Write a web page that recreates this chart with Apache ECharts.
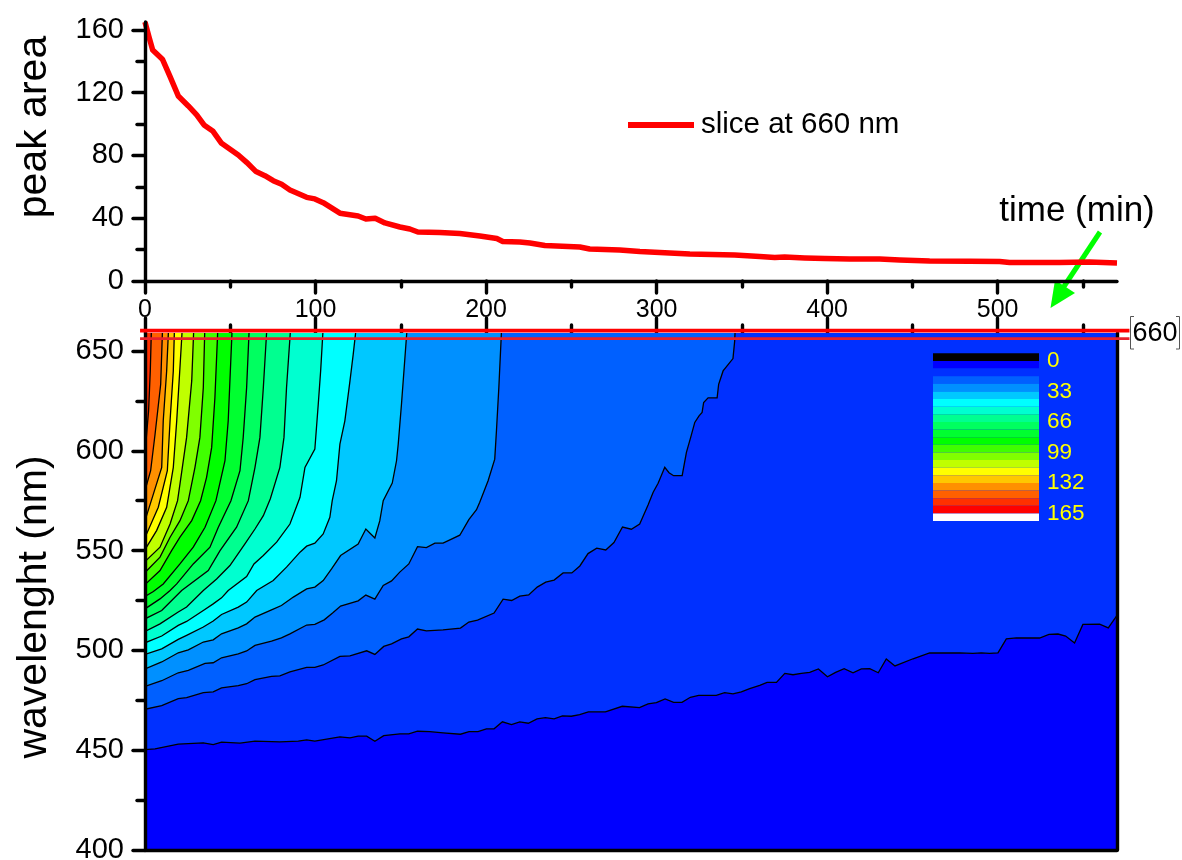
<!DOCTYPE html>
<html>
<head>
<meta charset="utf-8">
<style>html,body{margin:0;padding:0;background:#fff}#c{width:1182px;height:860px}</style>
<script src="https://cdn.jsdelivr.net/npm/echarts@6/dist/echarts.min.js"></script>
</head>
<body>
<div id="c"></div>
<script>
// ---------- top panel: slice at 660 nm (time, peak area)
const sliceData = [[0,165],[2.3,155.7],[4.5,147.2],[10.2,141.3],[14.7,130.2],[19.5,117.9],[25.4,111.5],[30.3,105.8],[34.6,99.4],[39.7,95.6],[44.9,87.7],[54.7,80.3],[59.6,75.6],[65.1,69.7],[70.3,67.1],[75.2,63.9],[80.1,61.6],[85,58],[94.8,53.3],[99.6,52.3],[104.5,49.9],[114.3,43.2],[125,41.4],[129.5,39.5],[135,40],[140.7,37],[149.5,34.4],[155.3,33.1],[160,31.2],[172.9,30.9],[184.6,30.3],[196.4,28.7],[206.3,27.1],[209.8,25.2],[219.8,24.9],[225.7,24.2],[234.5,22.6],[255,21.7],[260.8,20.4],[278.4,19.8],[290.2,18.8],[307.7,17.8],[319.5,17.2],[345.8,16.5],[360.5,15.6],[369.3,15],[375.1,15.3],[386.9,14.7],[398.6,14.3],[413.2,14],[430.8,14],[442.6,13.4],[460.1,12.7],[483.6,12.6],[501.2,12.4],[507,11.8],[536.3,11.8],[553.9,12.1],[570,11.5]];

// ---------- lower panel: contour lines (time, wavelength), wall -> top edge
const c0 = [[0,400],[570,400]];
const c8 = [[0,450.3],[5.9,450.7],[19.5,453],[34.2,453.7],[40,452.8],[44.9,454],[55.7,453.5],[64.5,454.5],[79.1,454.2],[89.9,454.5],[94.8,455.2],[99.6,454.5],[114.3,456.7],[120.2,456.2],[125,457],[130,457],[134.8,454.5],[140,457.3],[149.5,458.2],[154.7,458.2],[159.8,459.5],[167,459.3],[174.8,458.7],[185,458],[190,459.3],[195.3,459.3],[200.2,460.7],[204.7,460.7],[209.6,464.2],[214.9,462.8],[219.8,464.2],[224.8,463.5],[229.9,465.7],[234.8,466.3],[239.9,465.7],[244.8,467.2],[250,467],[254.9,467.8],[260,469.2],[270,469.2],[279.9,472],[290,471.3],[295,473.2],[299.9,473.8],[305,475.7],[310,474],[314.9,474],[319.8,476.5],[324.7,477.5],[335,477.5],[339.9,478.8],[344.8,478.2],[349.7,479.2],[354.6,480.8],[360.5,482.5],[364.8,484],[370.3,484],[375.2,488.5],[380,487.8],[384.9,488.5],[389.8,489],[394.9,490.7],[400.2,486.8],[405,489],[410,490.8],[415.2,488.8],[420.1,490.7],[425,490.8],[430,488.8],[434.7,495.7],[439.8,492.2],[450.4,495.8],[460.1,498.7],[477.7,498.8],[485.5,498.5],[490.4,498.8],[495.3,498.5],[500.2,498.8],[505.1,505.8],[511,506.3],[524.6,506.2],[530.1,508],[535.4,508.2],[539.9,507.2],[545.1,503.7],[550,513],[559.8,513.2],[564.9,511.3],[570,517.5]];
const c16 = [[0,470.5],[9.8,472.3],[19.5,475.8],[24.4,476.3],[34.2,478.8],[40,479.2],[44.9,481.2],[54.7,482.3],[59.6,483.3],[64.5,485.3],[74.2,487],[79.1,487.2],[85,489.2],[94.8,491.5],[99.6,491.5],[104.5,492.7],[114.3,497],[120.2,497.3],[130,499.8],[134.8,498],[140,502],[144.6,503.3],[150.4,505.8],[154.7,506.8],[159.8,510.7],[165,509.8],[174.8,510.3],[185,511.2],[189.9,514.2],[195,515.2],[204.7,518.7],[210,525.7],[215,525],[219.8,527.2],[225,527.8],[230,531.7],[235,534.2],[239.9,535.2],[245.2,538.8],[250.3,538.8],[255,542.3],[259.8,548.5],[264.9,551.2],[270.2,550.3],[275,554],[280,561.8],[285.2,560.7],[290.1,563.3],[295,572.8],[298,579.2],[300.9,583.7],[304.8,591.7],[307.3,589],[310,587.5],[315,587.5],[317.5,599.2],[320,606.7],[322.4,614.2],[324.9,617.5],[326.7,619.2],[327.6,624.2],[330.2,626.5],[335.5,626.5],[336.4,633.3],[339,640],[344.8,646.2],[345.8,655],[346,659]];
const c25 = [[0,482],[9.8,484.8],[19.5,488.8],[25.4,490],[35.2,493.5],[40,493.8],[44.9,496.3],[54.7,498.2],[59.6,499.7],[64.5,502.5],[74.2,504.7],[80,506.3],[85,508.3],[94.8,512.7],[99.6,513],[105.1,515.3],[110,518.7],[114.7,522.2],[125,524.8],[129.5,527.7],[134.8,525.7],[139.7,532.5],[144.6,534.8],[149.4,539.2],[154.7,543.3],[159.8,552],[165,551.5],[170,553.7],[174.8,553.7],[184.6,557.7],[189.9,565.5],[194.4,570.5],[196.3,574.2],[201.2,585],[205.1,595.8],[206.1,610],[207.5,631.7],[209,659]];
const c33 = [[0,490.7],[9.8,494.2],[19.5,498.8],[25.4,500.3],[34.2,504.2],[40,505.3],[44.9,508.3],[54.7,511.3],[59.6,513.3],[64.5,516.7],[74.2,520.3],[80,522.5],[87,526.7],[94.8,530.8],[99.6,531.7],[104.5,535],[109.4,540.8],[114.7,547.5],[125,553.3],[129.5,560.8],[134.8,556.3],[137.7,565],[139.7,575],[145,583.8],[147.5,595],[148.5,603.3],[150.4,623.3],[152,641.7],[153.5,659]];
const c41 = [[0,498],[9.8,500.8],[19.5,505.5],[24.4,507.5],[34.2,511.7],[40,514.7],[44.9,518],[54.7,521.7],[59.6,524.2],[65.5,530],[75.2,535],[83,541.7],[90.9,549.2],[94.8,552.2],[99.6,553.7],[104.5,558.3],[108.4,566.7],[109.8,575],[112.3,585],[114.3,603.3],[117.2,615],[120.2,635],[122.1,648.3],[123.5,659]];
const c50 = [[0,503.8],[9.8,507.2],[19.5,512.5],[24.4,514.5],[34.2,520],[40,523.3],[44.9,526.3],[48.8,530],[59.6,537],[63.9,543.3],[69.4,547.5],[77.2,554.2],[85,563.3],[90.9,576.7],[93.8,591.7],[99.6,600.8],[101.6,623.3],[103,640],[104.3,659]];
const c58 = [[0,509.5],[8.8,513.3],[19.5,519.2],[24.4,521.7],[34.2,530],[42,535.8],[49.8,542.5],[58.6,553.3],[64.5,560.8],[69.4,567.5],[73.5,576],[79.1,591.7],[81.5,606.7],[83,631.7],[85.2,659]];
const c66 = [[0,515.8],[9.8,520],[21.5,530],[37.1,540],[44,550],[53.7,561.7],[60.6,575],[64.5,591.7],[67.4,606.7],[69.4,631.7],[71.3,659]];
const c74 = [[0,520.8],[8.8,525.8],[14.7,530],[18.6,533.3],[28.3,543.3],[38.1,551.7],[43,561.7],[50.4,575],[55.7,590],[57.6,606.7],[59.6,631.7],[61,659]];
const c83 = [[0,527],[4.9,529.5],[10.7,533.3],[20.5,543.3],[28.3,551.7],[35.2,561.7],[41.6,575],[46.9,595],[48.8,615],[51,659]];
const c91 = [[0,533],[8.8,540],[15.6,550],[20.5,556.7],[27.4,565],[32.6,575],[36.1,586.7],[39.1,601.7],[41,626.7],[42.6,659]];
const c99 = [[0,539],[8.8,546.7],[14.7,556.7],[20.5,565],[25.4,575],[29.3,591.7],[32.2,606.7],[34.2,631.7],[35,659]];
const c107 = [[0,544.5],[8.8,551.7],[14.7,563.3],[19.1,575],[20.5,583.3],[24.4,606.7],[27.4,635],[28.5,659]];
const c116 = [[0,550.5],[6.8,560],[12.7,571.7],[16.6,591.7],[18.6,615],[20.5,641.7],[21.7,659]];
const c124 = [[0,556.5],[7.8,571.7],[13.1,590],[14.7,615],[16.6,640],[17.2,659]];
const c132 = [[0,565],[4.9,578.3],[9.8,591.7],[10.7,615],[12.7,640],[13.7,659]];
const c140 = [[0,580],[3.3,590],[5.9,608.3],[9.2,633.3],[10.2,659]];
const c149 = [[0,598.5],[2.1,620],[3.1,640],[3.7,659]];
const contours = [c0,c8,c16,c25,c33,c41,c50,c58,c66,c74,c83,c91,c99,c107,c116,c124,c132,c140,c149];

// band colours, lowest contour band first
const bandColors = ['#0000ff','#0030ff','#0060ff','#0090ff','#00c8ff','#00ffff','#00ffd0','#00ff90','#00ff60','#00ff30','#00ff00','#40ff00','#80ff00','#c0ff00','#ffff00','#ffc800','#ff9000','#ff6000','#ff3000'];

// colour scale key: lower bounds of each band
const keyLevels = [-8.25,0,8.25,16.5,24.75,33,41.25,49.5,57.75,66,74.25,82.5,90.75,99,107.25,115.5,123.75,132,140.25,148.5,156.75,165,173.25];
const keyColors = ['#000000','#0000ff','#0030ff','#0060ff','#0090ff','#00c8ff','#00ffff','#00ffd0','#00ff90','#00ff60','#00ff30','#00ff00','#40ff00','#80ff00','#c0ff00','#ffff00','#ffc800','#ff9000','#ff6000','#ff3000','#ff0000','#ffffff'];
const keyTicks = [0,33,66,99,132,165];

// tick values
const timeMajor = [0,100,200,300,400,500];
const timeMinor = [50,150,250,350,450,550];
const areaMajor = [0,40,80,120,160];
const areaMinor = [20,60,100,140];
const wlMajor = [400,450,500,550,600,650];
const wlMinor = [425,475,525,575,625];

// slice markers on the contour map
const sliceUpper = [[-2.9,660.2],[577.3,660.2]];
const sliceLower = [[-2.9,656.2],[577.3,656.2]];

const FONT = '"Liberation Sans", Arial, sans-serif';
const WL_MAX = 659, AREA_MAX = 165, T_MAX = 570;
const axisLineBlack = {show:true, onZero:false, lineStyle:{color:'#000', width:3.4, cap:'round'}};
const tick = (len, vals) => ({show:true, length:len, customValues:vals, lineStyle:{color:'#000', width:3.4, cap:'round'}});
const noTicks = {show:false};

// overlay axis that only draws the short ticks at the same place as its main axis
const minorAxis = (gridIndex, position, min, max, len, vals) => ({
  gridIndex, type:'value', min, max, position, splitLine:{show:false},
  axisLine:{show:false, onZero:false}, axisLabel:{show:false}, axisTick:tick(len, vals), z:6
});

const chart = echarts.init(document.getElementById('c'), null, {renderer:'canvas'});

const contourSeries = contours.map((path, i) => ({
  type:'custom', xAxisIndex:1, yAxisIndex:1, z:2+i*0.01, silent:true, clip:true,
  data:path, encode:{x:0,y:1},
  renderItem:(params, api) => {
    if (params.dataIndex !== 0) return null;
    const line = path.map(p => api.coord(p));
    const last = path[path.length-1];
    const poly = line.concat([api.coord([last[0],WL_MAX]), api.coord([0,WL_MAX])]);
    const children = [{type:'polygon', shape:{points:poly}, style:{fill:bandColors[i], stroke:null}}];
    if (i > 0) children.push({type:'polyline', shape:{points:line}, style:{fill:null, stroke:'#000', lineWidth:1.3}});
    return {type:'group', children};
  }
}));

const sliceMarker = (pts, color, width) => ({
  type:'custom', xAxisIndex:1, yAxisIndex:1, z:9, silent:true, clip:false, data:pts, encode:{x:0,y:1},
  renderItem:(params, api) => {
    if (params.dataIndex !== 0) return null;
    return {type:'polyline', shape:{points:pts.map(p => api.coord(p))}, style:{fill:null, stroke:color, lineWidth:width}};
  }
});

chart.setOption({
  animation:false,
  backgroundColor:'#fff',
  grid:[
    {left:145, width:972, top:22, height:259, outerBoundsMode:'none'},
    {left:145, width:972, top:333, height:517, outerBoundsMode:'none'},
    {left:933, width:106, top:353.3, height:167.7, outerBoundsMode:'none'}
  ],
  legend:{
    data:['slice at 660 nm'], left:628, top:110, icon:'rect', itemWidth:66, itemHeight:6, itemGap:0, padding:[0,0,0,0],
    textStyle:{fontFamily:FONT, fontSize:29.5, color:'#000', padding:[0,0,0,2]}
  },
  xAxis:[
    {gridIndex:0, type:'value', min:0, max:T_MAX, position:'bottom', splitLine:{show:false},
     axisLine:axisLineBlack, axisTick:tick(12,timeMajor), z:6,
     axisLabel:{margin:17, color:'#000', fontFamily:FONT, fontSize:25, customValues:timeMajor}},
    {gridIndex:1, type:'value', min:0, max:T_MAX, position:'top', splitLine:{show:false},
     axisLine:{show:false, onZero:false}, axisTick:tick(15,timeMajor), axisLabel:{show:false}, z:1},
    {gridIndex:1, type:'value', min:0, max:T_MAX, position:'bottom', splitLine:{show:false},
     axisLine:axisLineBlack, axisTick:noTicks, axisLabel:{show:false}, z:6},
    {gridIndex:2, type:'value', min:0, max:1, show:false},
    minorAxis(0,'bottom',0,T_MAX,6,timeMinor),
    Object.assign(minorAxis(1,'top',0,T_MAX,8,timeMinor),{z:1})
  ],
  yAxis:[
    {gridIndex:0, type:'value', min:0, max:AREA_MAX, position:'left', splitLine:{show:false},
     axisLine:axisLineBlack, axisTick:tick(12,areaMajor), z:6,
     axisLabel:{margin:21, color:'#000', fontFamily:FONT, fontSize:29, customValues:areaMajor}},
    {gridIndex:1, type:'value', min:400, max:WL_MAX, position:'left', splitLine:{show:false},
     axisLine:axisLineBlack, axisTick:tick(12,wlMajor), z:6,
     axisLabel:{margin:21, color:'#000', fontFamily:FONT, fontSize:29, customValues:wlMajor}},
    {gridIndex:1, type:'value', min:400, max:WL_MAX, position:'right', splitLine:{show:false},
     axisLine:axisLineBlack, axisTick:noTicks, axisLabel:{show:false}, z:6},
    {gridIndex:2, type:'value', inverse:true, min:-8.25, max:173.25, position:'right', splitLine:{show:false},
     axisLine:{show:false}, axisTick:noTicks, z:8,
     axisLabel:{show:true, margin:8, color:'#ffff00', fontFamily:FONT, fontSize:22.5, customValues:keyTicks}},
    minorAxis(0,'left',0,AREA_MAX,8,areaMinor),
    minorAxis(1,'left',400,WL_MAX,8,wlMinor)
  ],
  series:[
    {name:'slice at 660 nm', type:'line', xAxisIndex:0, yAxisIndex:0, data:sliceData, showSymbol:false, smooth:false, z:5,
     lineStyle:{color:'#ff0000', width:5.5, join:'round'}, itemStyle:{color:'#ff0000'}},
    ...contourSeries,
    {type:'custom', xAxisIndex:3, yAxisIndex:3, z:7, silent:true, data:keyColors.map((c,i)=>[0,keyLevels[i],keyLevels[i+1]]),
     encode:{x:0,y:[1,2]},
     renderItem:(params, api) => {
       const a = api.coord([0, api.value(1)]);
       const b = api.coord([1, api.value(2)]);
       return {type:'rect', shape:{x:a[0], y:a[1], width:b[0]-a[0], height:b[1]-a[1]},
               style:{fill:keyColors[params.dataIndex], stroke:null}};
     }},
    sliceMarker(sliceLower,'#e8202c',2.8),
    sliceMarker(sliceUpper,'#ff0000',3.6)
  ],
  graphic:[
    {type:'text', x:35, y:127, rotation:Math.PI/2, style:{text:'peak area', font:'41px '+FONT, fill:'#000', textAlign:'center', textVerticalAlign:'middle'}},
    {type:'text', x:35, y:607, rotation:Math.PI/2, style:{text:'wavelenght (nm)', font:'41px '+FONT, fill:'#000', textAlign:'center', textVerticalAlign:'middle'}},
    {type:'text', x:1077, y:211, style:{text:'time (min)', font:'35px '+FONT, fill:'#000', textAlign:'center', textVerticalAlign:'middle'}},
    {type:'text', x:1155, y:334, style:{text:'660', font:'27px '+FONT, fill:'#000', textAlign:'center', textVerticalAlign:'middle'}},
    {type:'polyline', shape:{points:[[1134,316.5],[1130.5,316.5],[1130.5,349],[1134,349]]}, style:{fill:null, stroke:'#555', lineWidth:1}},
    {type:'polyline', shape:{points:[[1176,316.5],[1179.5,316.5],[1179.5,349],[1176,349]]}, style:{fill:null, stroke:'#555', lineWidth:1}},
    {type:'line', shape:{x1:1100, y1:232, x2:1061, y2:291}, style:{stroke:'#00ff00', lineWidth:5}},
    {type:'polygon', shape:{points:[[1050.5,308],[1055,280],[1075,293]]}, style:{fill:'#00ff00'}}
  ]
});
</script>
</body>
</html>
